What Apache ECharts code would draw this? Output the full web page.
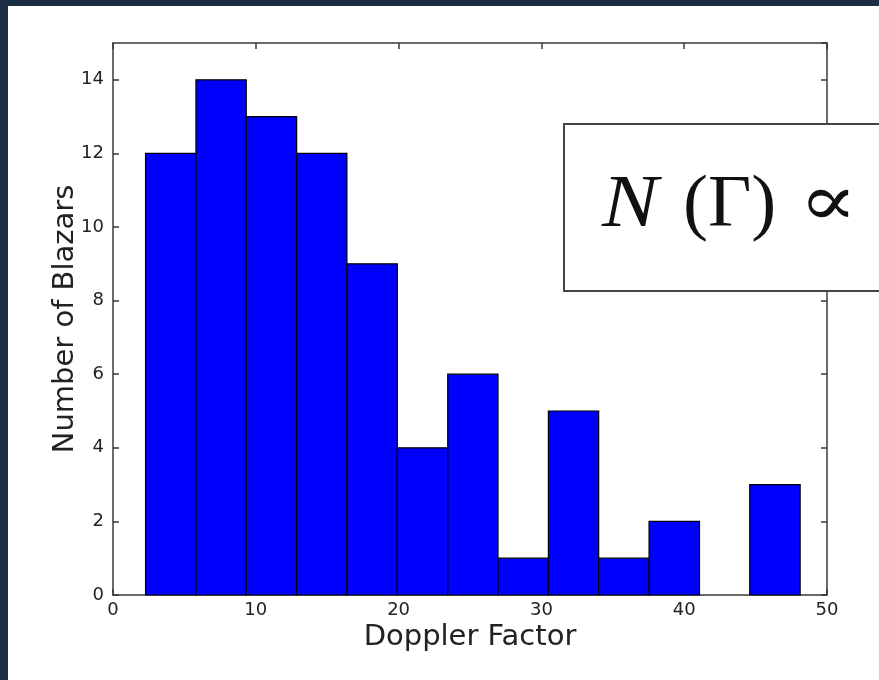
<!DOCTYPE html>
<html>
<head>
<meta charset="utf-8">
<script src="https://cdn.jsdelivr.net/npm/echarts@6/dist/echarts.min.js"></script>
<style>
  html, body { margin: 0; padding: 0; background: #1b2e42; }
  #wrap { position: absolute; left: 8px; top: 6px; width: 871px; height: 674px; background: #ffffff; }
  #chart { position: absolute; left: -8px; top: -6px; width: 879px; height: 680px; }
</style>
</head>
<body>
<div id="wrap"><div id="chart"></div></div>
<script>
// Histogram of Doppler factors (bin edges and counts)
const binEdges = [2.28, 5.81, 9.33, 12.86, 16.38, 19.91, 23.44, 26.96, 30.49, 34.01, 37.54, 41.07, 44.59, 48.12];
const counts = [12, 14, 13, 12, 9, 4, 6, 1, 5, 1, 2, 0, 3];
const xTicks = [0, 10, 20, 30, 40, 50];
const yTicks = [0, 2, 4, 6, 8, 10, 12, 14];
const xTitle = 'Doppler Factor';
const yTitle = 'Number of Blazars';
const formulaParts = ['N', '(Γ)', '∝', 'Γ'];

const bins = counts.map((c, i) => [binEdges[i], binEdges[i + 1], c]);

const chart = echarts.init(document.getElementById('chart'), null, { renderer: 'canvas' });

const frameColor = '#3a3a3a';
const labelStyle = { color: '#222', fontFamily: 'DejaVu Sans', fontSize: 18 };
const lineStyle = { color: frameColor, width: 1.5 };

chart.setOption({
  backgroundColor: 'transparent',
  animation: false,
  grid: { left: 113, top: 43, width: 714, height: 552, containLabel: false },
  xAxis: [
    {
      type: 'value', min: xTicks[0], max: xTicks[xTicks.length - 1], interval: 10,
      position: 'bottom',
      name: xTitle, nameLocation: 'middle', nameGap: 28, nameMoveOverlap: false,
      nameTextStyle: { color: '#222', fontFamily: 'DejaVu Sans', fontSize: 29 },
      axisLine: { show: true, onZero: false, lineStyle: lineStyle },
      axisTick: { show: true, inside: true, length: 6, lineStyle: lineStyle },
      axisLabel: Object.assign({ margin: 6 }, labelStyle),
      splitLine: { show: false }
    },
    {
      type: 'value', min: xTicks[0], max: xTicks[xTicks.length - 1], interval: 10,
      position: 'top',
      axisLine: { show: true, onZero: false, lineStyle: lineStyle },
      axisTick: { show: true, inside: true, length: 6, lineStyle: lineStyle },
      axisLabel: { show: false },
      splitLine: { show: false }
    }
  ],
  yAxis: [
    {
      type: 'value', min: yTicks[0], max: 15, interval: 2,
      position: 'left',
      name: yTitle, nameLocation: 'middle', nameGap: 33, nameRotate: 90, nameMoveOverlap: false,
      nameTextStyle: { color: '#222', fontFamily: 'DejaVu Sans', fontSize: 29 },
      axisLine: { show: true, onZero: false, lineStyle: lineStyle },
      axisTick: { show: true, inside: true, length: 6, lineStyle: lineStyle },
      axisLabel: Object.assign({ margin: 9, showMaxLabel: false,
        formatter: v => (yTicks.indexOf(v) >= 0 ? String(v) : '') }, labelStyle),
      splitLine: { show: false }
    },
    {
      type: 'value', min: yTicks[0], max: 15, interval: 2,
      position: 'right',
      axisLine: { show: true, onZero: false, lineStyle: lineStyle },
      axisTick: { show: true, inside: true, length: 6, lineStyle: lineStyle },
      axisLabel: { show: false },
      splitLine: { show: false }
    }
  ],
  series: [{
    type: 'custom',
    xAxisIndex: 0, yAxisIndex: 0,
    data: bins,
    z: 1,
    renderItem: function (params, api) {
      const x0 = api.value(0), x1 = api.value(1), c = api.value(2);
      if (c <= 0) return null;
      const p0 = api.coord([x0, c]);
      const p1 = api.coord([x1, 0]);
      return {
        type: 'rect',
        shape: { x: p0[0], y: p0[1], width: p1[0] - p0[0], height: p1[1] - p0[1] },
        style: { fill: '#0000ff', stroke: '#000000', lineWidth: 1.2 }
      };
    }
  }],
  graphic: [
    {
      type: 'rect', z: 100,
      shape: { x: 564, y: 124, width: 400, height: 167 },
      style: { fill: '#ffffff', stroke: '#444', lineWidth: 2 }
    },
    {
      type: 'text', z: 101, x: 602, y: 206, scaleX: 1.12,
      style: { text: formulaParts[0], fill: '#111', font: 'italic 75px "Liberation Serif"', verticalAlign: 'middle', align: 'left' }
    },
    {
      type: 'text', z: 101, x: 683, y: 206,
      style: { text: formulaParts[1], fill: '#111', font: '75px "Liberation Serif"', verticalAlign: 'middle', align: 'left' }
    },
    {
      type: 'text', z: 101, x: 799, y: 206, scaleX: 1.2,
      style: { text: formulaParts[2], fill: '#111', font: '72px "Liberation Serif", "DejaVu Serif"', verticalAlign: 'middle', align: 'left' }
    },
    {
      type: 'text', z: 101, x: 877, y: 206,
      style: { text: formulaParts[3], fill: '#111', font: '75px "Liberation Serif"', verticalAlign: 'middle', align: 'left' }
    }
  ]
});
</script>
</body>
</html>
